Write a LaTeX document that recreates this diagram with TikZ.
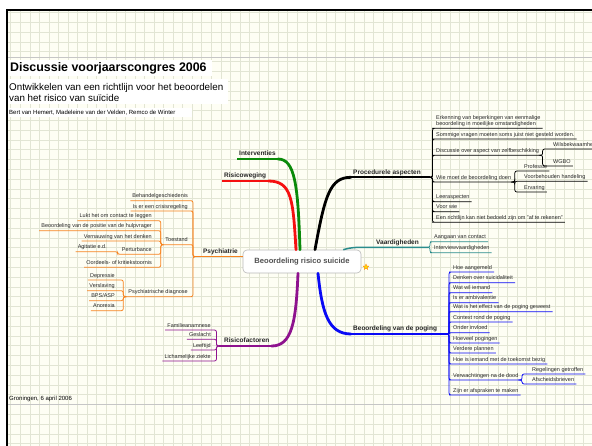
\documentclass[tikz,border=0pt]{standalone}
\usepackage{fontspec}
\setmainfont{Liberation Sans}
\usetikzlibrary{shapes.geometric}
\definecolor{bg}{HTML}{FEFEF4}
\definecolor{gridc}{HTML}{E2E5D4}
\definecolor{cOr}{HTML}{F7821E}
\definecolor{cPu}{HTML}{8E128E}
\definecolor{cBl}{HTML}{0A0AF5}
\definecolor{cTe}{HTML}{2A8C8C}
\definecolor{cGr}{HTML}{0A8A0A}
\definecolor{cRe}{HTML}{F51010}
\definecolor{txt}{HTML}{262626}
\begin{document}
\begin{tikzpicture}[x=1pt,y=-1pt,
 chb/.style={font=\fontsize{5.5}{6.5}\selectfont, text=txt, inner xsep=2pt, inner ysep=1.4pt},
 ch/.style={chb, text height=4pt, text depth=1.1pt},
 chr/.style={ch, anchor=south west},
 chl/.style={ch, anchor=south east},
 mainlbl/.style={font=\bfseries\fontsize{6.5}{7.5}\selectfont, text=txt, inner xsep=2pt, inner ysep=1.6pt, text height=4.8pt, text depth=1.3pt},
 conn/.style={line width=0.75pt, rounded corners=2pt},
 thickb/.style={line width=2.8pt, line cap=round},
 hb/.style={line width=1.7pt},
]
\useasboundingbox (0,0) rectangle (592,446);
% background
\fill[white] (0,0) rectangle (592,446);
\fill[bg] (7,10) rectangle (592,446);
\foreach \i in {0,...,61} \draw[gridc, line width=0.5pt] ({10.7+9.55*\i},10) -- ({10.7+9.55*\i},446);
\foreach \j in {0,...,44} \draw[gridc, line width=0.5pt] (7,{12.5+9.8*\j}) -- (592,{12.5+9.8*\j});
\draw[gray!45, line width=0.8pt] (8,57) -- (592,57);
\draw[gray!45, line width=0.8pt] (8,404) -- (592,404);
\draw[black, line width=2pt] (6,10) -- (592,10);
\draw[black, line width=2.2pt] (7,9) -- (7,446);
% title block
\fill[white] (8,60) rectangle (212,76);
\fill[white] (8,79) rectangle (228,104);
\fill[white] (8,108) rectangle (192,117);
\node[anchor=base west, font=\bfseries\fontsize{12.4}{14}\selectfont, inner sep=0] (title) at (10,71.5) {Discussie voorjaarscongres 2006};
\node[anchor=base west, font=\fontsize{9.8}{11.5}\selectfont, inner sep=0] (sub1) at (9,90.3) {Ontwikkelen van een richtlijn voor het beoordelen};
\node[anchor=base west, font=\fontsize{9.8}{11.5}\selectfont, inner sep=0] (sub2) at (9,101.8) {van het risico van suïcide};
\node[anchor=base west, font=\fontsize{6}{7}\selectfont, inner sep=0] (auth) at (9,115) {Bert van Hemert, Madeleine van der Velden, Remco de Winter};
\node[anchor=base west, font=\fontsize{6}{7}\selectfont, inner sep=0] (date) at (9,400) {Groningen, 6 april 2006};

% central node
\node[draw=gray!55, line width=0.6pt, fill=white, rounded corners=4pt, minimum width=118pt, minimum height=23pt, font=\bfseries\fontsize{7.6}{9}\selectfont, text=txt!80] (C) at (302,261.5) {Beoordeling risico suicide};
\node[star, star points=5, star point ratio=2.3, fill=yellow!80!orange, draw=orange, line width=0.3pt, minimum size=6pt, inner sep=0] (star) at (366,267) {};

% main labels
\node[mainlbl, anchor=south west] (int) at (237,159) {Interventies};
\node[mainlbl, anchor=south west] (risw) at (222,181) {Risicoweging};
\node[mainlbl, anchor=south west] (proc) at (351,177.3) {Procedurele aspecten};
\node[mainlbl, anchor=south west] (vaar) at (374,247.3) {Vaardigheden};
\node[mainlbl, anchor=south west] (beo) at (351,334) {Beoordeling van de poging};
\node[mainlbl, anchor=south east] (psy) at (240,256.7) {Psychiatrie};
\node[mainlbl, anchor=south west] (rf) at (222,346) {Risicofactoren};
\coordinate (pa) at (430,177.3);
\coordinate (va) at (428,247.3);
\coordinate (bp) at (446,334);
\coordinate (psj) at (195,256.7);
\coordinate (rfj) at (219,346);

% main branches
\draw[cGr,thickb] ([xshift=-2pt]C.north) .. controls (298,185) and (295,159) .. (int.south east);
\draw[cGr,hb] (int.south east) -- (int.south west);
\draw[cRe,thickb] ([xshift=-6pt]C.north) .. controls (293,200) and (292,181) .. (risw.south east);
\draw[cRe,hb] (risw.south east) -- (risw.south west);
\draw[black,thickb] ([xshift=13pt]C.north) .. controls (325,195) and (330,177.3) .. (proc.south west);
\draw[black,hb] (proc.south west) -- (pa);
\draw[cTe,line width=1.5pt] ([xshift=-18pt]C.north east) .. controls (352,247.3) .. (vaar.south west) -- (va);
\draw[cBl,thickb] ([xshift=16pt]C.south) .. controls (322,312) and (328,334) .. (beo.south west);
\draw[cBl,hb] (beo.south west) -- (bp);
\draw[cPu,thickb] ([xshift=-4pt]C.south) .. controls (296,322) and (292,346) .. (rf.south east);
\draw[cPu,hb] (rf.south east) -- (rfj);
\draw[cOr,line width=1.5pt] ([yshift=4.8pt]C.west) -- (psj);

% Procedurele aspecten
\node[chb, anchor=south west, align=left] (p1) at (434,128.3) {Erkenning van beperkingen van eenmalige\\beoordeling in moeilijke omstandigheden};
\node[chr] (p2) at (434,139) {Sommige vragen moeten soms juist niet gesteld worden.};
\node[chr] (p3) at (434,155.3) {Discussie over aspect van zelfbeschikking};
\node[chr] (p4) at (434,182) {Wie moet de beoordeling doen};
\node[chr] (p5) at (434,201.7) {Leeraspecten};
\node[chr] (p6) at (434,211.7) {Voor wie};
\node[chr] (p7) at (434,222.3) {Een richtlijn kan niet bedoeld zijn om "af te rekenen"};
\node[chr] (p31) at (551,149) {Wilsbekwaamheid};
\node[chr] (p32) at (551,166) {WGBO};
\node[chr] (p41) at (522,171) {Professie};
\node[chr] (p42) at (522,181.3) {Voorbehouden handeling};
\node[chr] (p43) at (522,192) {Ervaring};
\foreach \n in {p1,p2,p3,p4,p5,p6,p7} \draw[conn] (pa) -- ++(2.5,0) |- (\n.south west) -- (\n.south east);
\foreach \n in {p31,p32} \draw[conn] (p3.south east) -- ++(1.5,0) |- (\n.south west) -- (\n.south east);
\foreach \n in {p41,p42,p43} \draw[conn] (p4.south east) -- ++(1.5,0) |- (\n.south west) -- (\n.south east);

% Vaardigheden
\node[chr] (v1) at (432,241.7) {Aangaan van contact};
\node[chr] (v2) at (432,252.7) {Interviewvaardigheden};
\foreach \n in {v1,v2} \draw[conn,cTe] (va) -- ++(2,0) |- (\n.south west) -- (\n.south east);

% Beoordeling van de poging
\node[chr] (b1) at (451,272) {Hoe aangemeld};
\node[chr] (b2) at (451,282.7) {Denken over suicidaliteit};
\node[chr] (b3) at (451,292.7) {Wat wil iemand};
\node[chr] (b4) at (451,302.7) {Is er ambivalentie};
\node[chr] (b5) at (451,311.7) {Wat is het effect van de poging geweest};
\node[chr] (b6) at (451,322) {Context rond de poging};
\node[chr] (b7) at (451,332.7) {Onder invloed};
\node[chr] (b8) at (451,343) {Hoeveel pogingen};
\node[chr] (b9) at (451,353) {Verdere plannen};
\node[chr] (b10) at (451,364) {Hoe is iemand met de toekomst bezig};
\node[chr] (b11) at (451,380) {Verwachtingen na de dood};
\node[chr] (b12) at (451,395) {Zijn er afspraken te maken};
\node[chr] (b111) at (530,374) {Regelingen getroffen};
\node[chr] (b112) at (530,384) {Afscheidsbrieven};
\foreach \n in {b1,b2,b3,b4,b5,b6,b7,b8,b9,b10,b11,b12} \draw[conn,cBl] (bp) -- ++(3,0) |- (\n.south west) -- (\n.south east);
\foreach \n in {b111,b112} \draw[conn,cBl] (b11.south east) -- ++(1.5,0) |- (\n.south west) -- (\n.south east);

% Psychiatrie
\node[chl] (s1) at (190,200.7) {Behandelgeschiedenis};
\node[chl] (s2) at (190,211) {Is er een crisisregeling};
\node[chl] (s3) at (190,244.7) {Toestand};
\node[chl] (s4) at (190,296.7) {Psychiatrische diagnose};
\node[chl] (t1) at (154,220.7) {Lukt het om contact te leggen};
\node[chl] (t2) at (154,230.7) {Beoordeling van de positie van de hulpvrager};
\node[chl] (t3) at (154,241) {Vernauwing van het denken};
\node[chl] (t4) at (154,254.3) {Perturbance};
\node[chl] (t5) at (154,267.3) {Oordeels- of kritiekstoornis};
\node[chl] (a1) at (109,251.7) {Agitatie e.d.};
\node[chl] (d1) at (117,280) {Depressie};
\node[chl] (d2) at (117,290.7) {Verslaving};
\node[chl] (d3) at (117,300.7) {BPS/ASP};
\node[chl] (d4) at (117,310.7) {Anorexia};
\foreach \n in {s1,s2,s3,s4} \draw[conn,cOr] (psj) -- ++(-2,0) |- (\n.south east) -- (\n.south west);
\foreach \n in {t1,t2,t3,t4,t5} \draw[conn,cOr] (s3.south west) -- ++(-2.5,0) |- (\n.south east) -- (\n.south west);
\draw[conn,cOr] (t4.south west) -- ++(-2,0) |- (a1.south east) -- (a1.south west);
\foreach \n in {d1,d2,d3,d4} \draw[conn,cOr] (s4.south west) -- ++(-3,0) |- (\n.south east) -- (\n.south west);

% Risicofactoren
\node[chl] (r1) at (213,330) {Familieanamnese};
\node[chl] (r2) at (213,339.3) {Geslacht};
\node[chl] (r3) at (213,350) {Leeftijd};
\node[chl] (r4) at (213,361) {Lichamelijke ziekte};
\foreach \n in {r1,r2,r3,r4} \draw[conn,cPu] (rfj) -- ++(-2.5,0) |- (\n.south east) -- (\n.south west);
\end{tikzpicture}
\end{document}
